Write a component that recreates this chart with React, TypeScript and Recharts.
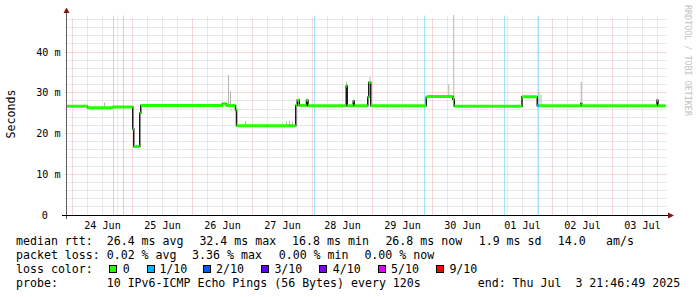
import { ComposedChart, Line, XAxis, YAxis, ReferenceLine } from "recharts";

// hours are counted from 24 Jun 00:00, values in ms
const dayNoons = [12, 36, 60, 84, 108, 132, 156, 180, 204, 228];
const dayLabels = ["24 Jun", "25 Jun", "26 Jun", "27 Jun", "28 Jun", "29 Jun", "30 Jun", "01 Jul", "02 Jul", "03 Jul"];
const yTicks = [0, 10, 20, 30, 40];
const yTickLabels = ["0", "10 m", "20 m", "30 m", "40 m"];

const stepStart = [
  -2.2, 6.0, 16.0, 24.1, 24.5, 26.9, 27.3, 60.0, 61.6, 65.2, 65.6, 89.3, 89.9, 90.7, 93.6, 94.2,
  109.5, 109.9, 112.3, 112.7, 118.1, 118.5, 119.3, 141.5, 142.0, 152.1, 152.7, 179.8, 185.9, 203.3,
  203.7, 233.8, 234.2,
];
const stepRtt = [
  26.7, 26.3, 26.5, 21.1, 16.8, 25.0, 26.9, 27.3, 26.9, 25.8, 21.9, 26.9, 28.2, 26.9, 28.2, 26.8,
  31.7, 26.8, 28.0, 26.8, 28.9, 32.5, 26.8, 28.9, 29.1, 28.4, 26.7, 29.0, 26.8, 27.4,
  26.8, 28.2, 26.8,
];
const lineEnd = 237.2;

const smokeHour = [12.8, 62.4, 63.2, 69.2, 85.6, 86.8, 88.0, 109.6, 119.0, 150.5, 152.5, 186.6, 187.4, 203.5, 234.0];
const smokeLow = [26.5, 27.0, 27.0, 22.0, 22.0, 22.0, 22.0, 31.0, 32.0, 29.3, 28.5, 26.9, 26.9, 26.9, 27.5];
const smokeHigh = [27.6, 34.4, 30.4, 23.0, 23.0, 23.1, 23.0, 32.7, 33.9, 32.1, 49.1, 30.3, 29.5, 32.7, 28.6];

const lossHours = [16.3, 20.5, 96.9, 140.9, 172.9, 186.5];
const lossSegStart = [186.2];
const lossSegEnd = [186.6];
const lossSegRtt = [26.8];

const rttStats = ["26.4 ms avg", "32.4 ms max", "16.8 ms min", "26.8 ms now", "1.9 ms sd", "14.0", "am/s"];
const lossStats = ["0.02 % avg", "3.36 % max", "0.00 % min", "0.00 % now"];
const lossLabels = ["0", "1/10", "2/10", "3/10", "4/10", "5/10", "9/10"];
const lossColors = ["#26ff00", "#00b8ff", "#0059ff", "#5e00ff", "#7e00ff", "#dd00ff", "#ff0000"];
const probeText = "10 IPv6-ICMP Echo Pings (56 Bytes) every 120s";
const endText = "end: Thu Jul  3 21:46:49 2025";

const FONT = "'DejaVu Sans Mono', monospace";
const X_DOMAIN = [-2.2, 237.8];
const Y_DOMAIN = [0, 49.1];

const stepData = stepStart.map((h, i) => ({ h, v: stepRtt[i] })).concat([{ h: lineEnd, v: stepRtt[stepRtt.length - 1] }]);
const greenData = stepStart.flatMap((h, i) => {
  const end = i + 1 < stepStart.length ? stepStart[i + 1] : lineEnd;
  return [{ h, v: stepRtt[i] }, { h: end, v: stepRtt[i] }, { h: end, v: null }];
});
const smokeData = smokeHour.flatMap((h, i) => [{ h, v: smokeLow[i] }, { h, v: smokeHigh[i] }, { h, v: null }]);
const lossLineData = lossSegStart.flatMap((h, i) => [{ h, v: lossSegRtt[i] }, { h: lossSegEnd[i], v: lossSegRtt[i] }, { h: lossSegEnd[i], v: null }]);

const hourGrid: number[] = [];
for (let h = 0; h < X_DOMAIN[1]; h += 6) hourGrid.push(h);
const msGrid: number[] = [];
for (let m = 2; m < Y_DOMAIN[1]; m += 2) msGrid.push(m);

// rrdtool draws on whole pixels, so snap grid lines to pixel centres
const snap = (v: number) => Math.floor(v) + 0.5;
const gridShape = (color: string, dash?: string, opacity = 1, below = 0, left = 0) => (p: any) => (
  <line
    x1={snap(p.x1) - left}
    y1={snap(p.y1)}
    x2={snap(p.x2)}
    y2={snap(p.y2) + below}
    stroke={color}
    strokeOpacity={opacity}
    strokeWidth={1}
    strokeDasharray={dash}
  />
);
const minorH = gridShape("#d2d2d2", "1 1", 1, 0, 2);
const majorH = gridShape("#eeb0b0", "1 1", 1, 0, 2);
const minorV = gridShape("#d2d2d2", "1 1");
const majorV = gridShape("#eeb0b0", "1 1", 1, 3);
const lossShape = gridShape("#00b8ff", undefined, 0.36);

function YTick({ y, payload }: any) {
  const i = yTicks.indexOf(payload.value);
  const zero = payload.value === 0;
  return (
    <text x={zero ? 47.8 : 60.6} y={y} dy="0.35em" textAnchor="end" fontFamily={FONT} fontSize={10.15} fill="#000">
      {yTickLabels[i]}
    </text>
  );
}

function XTick({ x, payload }: any) {
  const i = dayNoons.indexOf(payload.value);
  return (
    <text x={x} y={228.5} textAnchor="middle" fontFamily={FONT} fontSize={10.15} fill="#000">
      {dayLabels[i]}
    </text>
  );
}

const rttX = [107.3, 200, 292.7, 386, 479.3, 558.3, 606.7];
const lossX = [107.3, 192.7, 279.3, 365];
const boxX = [108.7, 146.7, 203.3, 260.7, 319.3, 378.3, 435.7];
const boxLabelX = [123.3, 160, 216.7, 275, 333.3, 391.7, 450];

function Overlay() {
  const t = (x: number, y: number, s: string, key?: any) => (
    <text key={key} x={x - 0.6} y={y} fontFamily={FONT} fontSize={11.6} fill="#000" xmlSpace="preserve">
      {s}
    </text>
  );
  return (
    <svg width={697} height={297} style={{ position: "absolute", left: 0, top: 0, pointerEvents: "none" }}>
      {/* axes with rrdtool arrows */}
      <line x1={66.5} y1={12} x2={66.5} y2={219} stroke="#5e5e5e" strokeWidth={1} />
      <line x1={62} y1={215.5} x2={668} y2={215.5} stroke="#000" strokeWidth={1} />
      <polygon points="63.5,13 69.5,13 66.5,7.5" fill="#7f1515" />
      <polygon points="668,212.5 668,218.5 674,215.5" fill="#7f1515" />
      <text transform="translate(15,114) rotate(-90)" textAnchor="middle" fontFamily={FONT} fontSize={11.6} fill="#000">
        Seconds
      </text>
      <text transform="translate(685,5) rotate(90)" fontFamily={FONT} fontSize={8.4} fill="#c2c2c2">
        RRDTOOL / TOBI OETIKER
      </text>

      {t(16.6, 245.3, "median rtt:")}
      {rttStats.map((s, i) => t(rttX[i], 245.3, s, "r" + i))}
      {t(16.6, 259.3, "packet loss:")}
      {lossStats.map((s, i) => t(lossX[i], 259.3, s, "l" + i))}
      {t(16.6, 273.3, "loss color:")}
      {lossLabels.map((s, i) => (
        <g key={"c" + i}>
          <rect x={Math.round(boxX[i]) + 0.5} y={265.5} width={7} height={7} fill={lossColors[i]} stroke="#000" strokeWidth={1} />
          {t(boxLabelX[i], 273.3, s)}
        </g>
      ))}
      {t(16.6, 287.3, "probe:")}
      {t(107.3, 287.3, probeText)}
      {t(478.3, 287.3, endText)}
    </svg>
  );
}

export default function App() {
  return (
    <div style={{ position: "absolute", left: 0, top: 0, width: 697, height: 297, background: "#fff" }}>
      <ComposedChart width={697} height={297} margin={{ top: 15, right: 30, bottom: 0, left: 0 }}>
        <XAxis
          dataKey="h"
          type="number"
          domain={X_DOMAIN}
          allowDataOverflow
          ticks={dayNoons}
          tick={<XTick />}
          axisLine={false}
          tickLine={false}
          height={82}
        />
        <YAxis
          type="number"
          domain={Y_DOMAIN}
          allowDataOverflow
          ticks={yTicks}
          tick={<YTick />}
          axisLine={false}
          tickLine={false}
          width={67}
        />
        {msGrid.map((m) => (
          <ReferenceLine key={"ym" + m} y={m} shape={m % 10 === 0 ? majorH : minorH} zIndex={-50} />
        ))}
        {hourGrid.map((h) => (
          <ReferenceLine key={"xm" + h} x={h} shape={h % 24 === 0 ? majorV : minorV} zIndex={-50} />
        ))}
        {lossHours.map((h) => (
          <ReferenceLine key={"loss" + h} x={h} shape={lossShape} zIndex={-40} />
        ))}
        <Line data={smokeData} dataKey="v" stroke="#b4b4b4" strokeWidth={1} dot={false} isAnimationActive={false} connectNulls={false} type="linear" />
        <Line data={stepData} dataKey="v" stroke="#1a1a1a" strokeWidth={1.5} dot={false} isAnimationActive={false} type="stepAfter" />
        <Line data={greenData} dataKey="v" stroke="#26ff00" strokeWidth={3} dot={false} isAnimationActive={false} connectNulls={false} type="linear" />
        <Line data={lossLineData} dataKey="v" stroke="#00b8ff" strokeWidth={3} dot={false} isAnimationActive={false} connectNulls={false} type="linear" />
      </ComposedChart>
      <Overlay />
    </div>
  );
}
